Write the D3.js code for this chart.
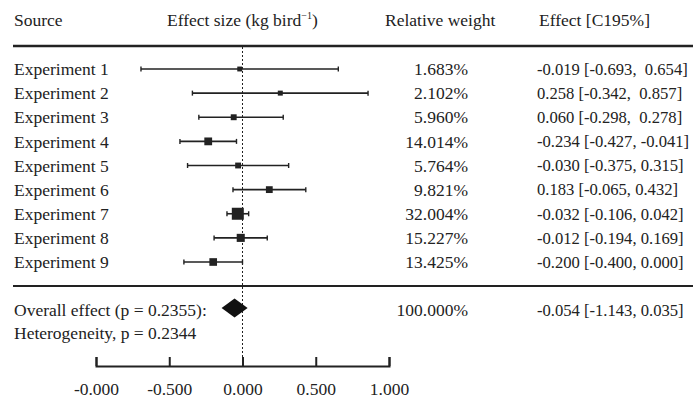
<!DOCTYPE html>
<html>
<head>
<meta charset="utf-8">
<script src="https://cdn.jsdelivr.net/npm/d3@7"></script>
<style>
  body { margin: 0; background: #fff; }
  svg { display: block; }
  text { font-family: "Liberation Serif", "Times New Roman", serif; font-size: 17.5px; fill: #222; }
</style>
</head>
<body>
<svg id="chart" width="693" height="401"></svg>
<script>
'use strict';

// one row per experiment (marks as drawn in the figure; exp 3 sits left of zero)
var sources = ['Experiment 1', 'Experiment 2', 'Experiment 3', 'Experiment 4', 'Experiment 5',
               'Experiment 6', 'Experiment 7', 'Experiment 8', 'Experiment 9'];
var effects = [-0.019, 0.258, -0.060, -0.234, -0.030, 0.183, -0.032, -0.012, -0.200];
var lowers  = [-0.693, -0.342, -0.298, -0.427, -0.375, -0.065, -0.106, -0.194, -0.400];
var uppers  = [0.654, 0.857, 0.278, -0.041, 0.315, 0.432, 0.042, 0.169, 0.000];
var weights = [1.683, 2.102, 5.960, 14.014, 5.764, 9.821, 32.004, 15.227, 13.425];
var effectLabels = ['-0.019 [-0.693,  0.654]', '0.258 [-0.342,  0.857]', '0.060 [-0.298,  0.278]',
                    '-0.234 [-0.427, -0.041]', '-0.030 [-0.375, 0.315]', '0.183 [-0.065, 0.432]',
                    '-0.032 [-0.106, 0.042]', '-0.012 [-0.194, 0.169]', '-0.200 [-0.400, 0.000]'];

// pooled estimate
var overallEffect = -0.054;
var overallLower = -0.143;
var overallUpper = 0.035;
var overallWeight = 100.000;
var overallLabel = '-0.054 [-1.143, 0.035]';
var overallP = 0.2355;
var heteroP = 0.2344;

var tickValues = [-1, -0.5, 0, 0.5, 1];
var tickLabels = ['-0.000', '-0.500', '0.000', '0.500', '1.000'];

var svg = d3.select('#chart');
var ink = '#222';

var x = d3.scaleLinear().domain([-1, 1]).range([96, 389]);
var y = d3.scalePoint().domain(sources).range([69, 262]);
var boxSize = d3.scaleLinear().domain([0, d3.max(weights)]).range([4.5, 12]);

// header
var header = svg.append('g');
header.append('text').attr('x', 14).attr('y', 26).text('Source');
var es = header.append('text').attr('x', 167).attr('y', 26);
es.append('tspan').text('Effect size (kg bird');
es.append('tspan').attr('dy', -7).style('font-size', '10px').text('\u22121');
es.append('tspan').attr('dy', 7).text(')');
header.append('text').attr('x', 385).attr('y', 26).text('Relative weight');
header.append('text').attr('x', 539).attr('y', 26).text('Effect [C195%]');

svg.append('line').attr('x1', 13).attr('x2', 693).attr('y1', 46).attr('y2', 46)
  .attr('stroke', ink).attr('stroke-width', 2.5);
svg.append('line').attr('x1', 13).attr('x2', 693).attr('y1', 286).attr('y2', 286)
  .attr('stroke', ink).attr('stroke-width', 2);

// zero line
svg.append('line').attr('x1', x(0)).attr('x2', x(0)).attr('y1', 47).attr('y2', 366)
  .attr('stroke', ink).attr('stroke-width', 1).attr('stroke-dasharray', '2,2');

// rows
var rows = svg.append('g').selectAll('g').data(sources).join('g')
  .attr('transform', function(d) { return 'translate(0,' + y(d) + ')'; });

rows.append('text').attr('x', 14).attr('dy', '0.35em').text(function(d) { return d; });

rows.append('line')
  .attr('x1', function(d, i) { return x(lowers[i]); })
  .attr('x2', function(d, i) { return x(uppers[i]); })
  .attr('stroke', ink).attr('stroke-width', 1.6);
rows.append('line')
  .attr('x1', function(d, i) { return x(lowers[i]); })
  .attr('x2', function(d, i) { return x(lowers[i]); })
  .attr('y1', -2.5).attr('y2', 2.5).attr('stroke', ink).attr('stroke-width', 1.4);
rows.append('line')
  .attr('x1', function(d, i) { return x(uppers[i]); })
  .attr('x2', function(d, i) { return x(uppers[i]); })
  .attr('y1', -2.5).attr('y2', 2.5).attr('stroke', ink).attr('stroke-width', 1.4);
rows.append('rect')
  .attr('x', function(d, i) { return x(effects[i]) - boxSize(weights[i]) / 2; })
  .attr('y', function(d, i) { return -boxSize(weights[i]) / 2; })
  .attr('width', function(d, i) { return boxSize(weights[i]); })
  .attr('height', function(d, i) { return boxSize(weights[i]); })
  .attr('fill', ink);

rows.append('text').attr('x', 468).attr('dy', '0.35em').attr('text-anchor', 'end')
  .text(function(d, i) { return d3.format('.3f')(weights[i]) + '%'; });
rows.append('text').attr('x', 537).attr('dy', '0.35em').attr('xml:space', 'preserve')
  .style('white-space', 'pre').style('font-size', '16.6px')
  .text(function(d, i) { return effectLabels[i]; });

// overall
var oy = 308;
svg.append('path')
  .attr('d', 'M' + x(overallLower) + ',' + oy + 'L' + x(overallEffect) + ',' + (oy - 9.5) +
    'L' + x(overallUpper) + ',' + oy + 'L' + x(overallEffect) + ',' + (oy + 9.5) + 'Z')
  .attr('fill', '#111');
svg.append('text').attr('x', 14).attr('y', 316).text('Overall effect (p = ' + overallP + '):');
svg.append('text').attr('x', 14).attr('y', 339).text('Heterogeneity, p = ' + heteroP);
svg.append('text').attr('x', 468).attr('y', 316).attr('text-anchor', 'end')
  .text(d3.format('.3f')(overallWeight) + '%');
svg.append('text').attr('x', 537).attr('y', 316).style('font-size', '16.6px').text(overallLabel);

// axis
var axis = svg.append('g').attr('transform', 'translate(0,366)')
  .call(d3.axisBottom(x).tickValues(tickValues).tickSize(-9).tickPadding(17)
    .tickFormat(function(d, i) { return tickLabels[i]; }));
axis.selectAll('path, line').attr('stroke', ink).attr('stroke-width', 2);
axis.selectAll('text').attr('fill', ink)
  .style('font-family', '"Liberation Serif", "Times New Roman", serif').style('font-size', '17.5px');
</script>
</body>
</html>
